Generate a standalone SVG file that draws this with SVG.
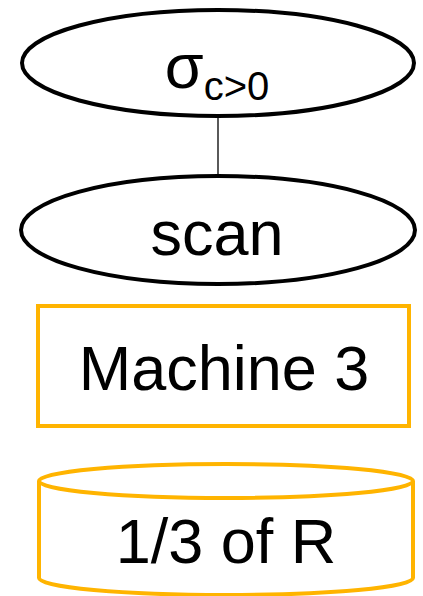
<svg xmlns="http://www.w3.org/2000/svg" width="423" height="596" viewBox="0 0 423 596">
<style>
.op{fill:#fff;stroke:#000;stroke-width:4}
.m{fill:#fff;stroke:#FFB400;stroke-width:4}
text{font-family:"Liberation Sans",Arial,sans-serif;fill:#000;text-anchor:middle}
.t{font-size:63px}
</style>
<rect width="423" height="596" fill="#fff"/>
<g id="connectors">
<line x1="218" y1="117" x2="218" y2="177" stroke="#000" stroke-width="1.3"/>
</g>
<g id="select">
<ellipse class="op" cx="218" cy="63" rx="196" ry="53"/>
<text x="217" y="88"><tspan font-size="63px">σ</tspan><tspan font-size="40px" dy="12">c&gt;0</tspan></text>
</g>
<g id="scan">
<ellipse class="op" cx="218" cy="230" rx="197" ry="54"/>
<text class="t" x="217" y="255">scan</text>
</g>
<g id="machine3">
<rect class="m" x="38" y="306" width="371" height="120"/>
<text class="t" x="224" y="390">Machine 3</text>
</g>
<g id="partition">
<path class="m" d="M39,481 L39,578 A187,17 0 0 0 413,578 L413,481"/>
<ellipse class="m" cx="226" cy="481" rx="187" ry="17"/>
<text class="t" x="226" y="563">1/3 of R</text>
</g>
</svg>
